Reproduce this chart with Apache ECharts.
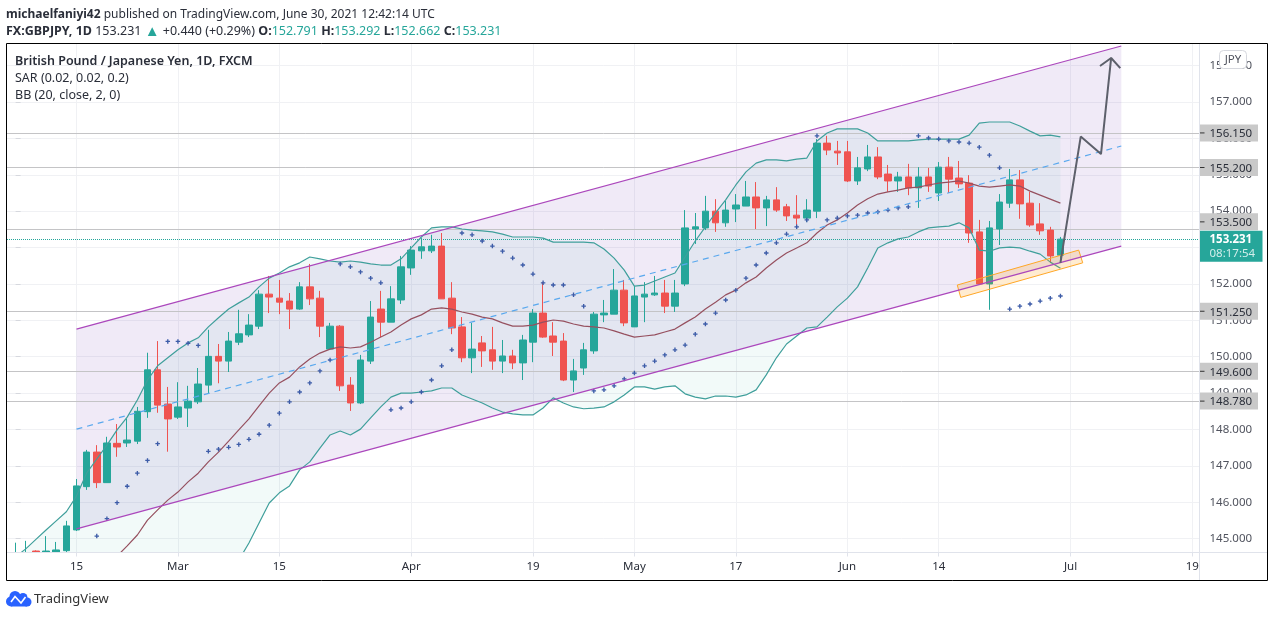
<!DOCTYPE html>
<html>
<head>
<meta charset="utf-8">
<title>GBPJPY</title>
<style>
  html, body { margin: 0; padding: 0; background: #fff; }
  #chart { width: 1274px; height: 617px; }
</style>
<script src="https://cdn.jsdelivr.net/npm/echarts@6/dist/echarts.min.js"></script>
</head>
<body>
<div id="chart"></div>
<script>
// daily bars, index 0 = 5 Feb 2021, weekends skipped
const opens = [
  144.30,144.30,144.66,144.55,144.55,144.67,145.24,146.43,147.38,146.54,
  147.62,147.63,147.68,148.49,149.64,148.70,148.34,148.59,148.76,149.22,
  150.01,149.88,150.40,150.60,150.84,151.72,151.61,151.53,151.31,151.92,
  151.61,150.21,150.84,149.22,148.73,149.88,151.31,150.95,151.56,152.44,
  152.91,152.91,153.04,151.61,150.82,149.97,150.38,150.19,149.88,150.02,
  149.83,150.40,151.20,150.57,150.43,149.36,149.69,150.16,151.15,151.17,
  151.83,150.82,151.64,151.70,151.75,151.39,152.00,153.51,153.54,154.00,
  153.68,154.06,154.14,154.39,154.09,154.31,154.12,153.89,153.81,154.00,
  155.87,155.65,155.63,154.83,155.16,155.49,155.02,154.83,154.94,154.64,
  154.94,154.50,155.21,154.91,154.77,153.43,152.00,153.51,154.22,154.86,
  154.22,153.65,153.48,152.791
];
const closes = [
  144.50,144.55,144.50,144.66,144.69,145.35,146.45,147.38,146.54,147.63,
  147.52,147.71,148.50,149.64,148.67,148.29,148.62,148.78,149.25,150.01,
  149.88,150.43,150.63,150.87,151.72,151.64,151.50,151.31,151.92,151.59,
  150.84,150.84,149.20,148.73,149.91,151.09,150.95,151.59,152.47,152.93,
  153.02,153.04,151.59,150.79,149.97,150.21,150.16,149.88,150.02,149.83,
  150.46,151.20,150.54,150.40,149.36,149.61,150.19,151.17,151.20,151.83,
  150.93,151.67,151.72,151.75,151.39,151.75,153.54,153.57,154.00,153.68,
  154.03,154.17,154.39,154.09,154.31,154.03,153.87,153.81,154.03,155.87,
  155.68,155.60,154.83,155.19,155.49,154.94,154.83,154.94,154.64,154.94,
  154.69,155.21,154.88,154.75,153.40,152.00,153.54,154.25,154.86,154.20,
  153.62,153.46,152.77,153.231
];
const lows = [
  144.20,144.20,144.40,144.50,144.50,144.60,145.21,146.34,146.39,146.54,
  147.25,147.52,147.60,148.32,148.46,147.39,148.29,148.07,148.70,149.00,
  149.27,149.58,150.32,150.54,150.76,151.20,151.17,150.76,151.29,151.42,
  150.54,150.19,149.06,148.51,148.70,149.80,150.54,150.95,151.45,152.25,
  152.69,152.85,151.59,150.62,149.85,149.55,149.72,149.64,149.55,149.66,
  149.36,149.85,150.52,150.02,149.33,149.03,149.50,150.08,150.95,151.17,
  150.84,150.82,150.95,151.67,151.20,151.23,151.94,153.10,153.48,153.43,
  153.57,153.70,154.14,153.51,153.59,153.98,153.73,153.54,153.70,153.81,
  155.54,155.27,154.80,154.72,155.10,154.88,154.53,154.53,154.44,154.09,
  154.53,154.28,154.50,154.64,153.13,151.97,151.29,153.07,154.09,153.79,
  153.57,153.35,152.58,152.662
];
const highs = [
  144.89,144.94,144.68,145.07,144.91,145.49,146.64,147.44,147.57,147.80,
  148.15,148.30,148.62,150.11,150.43,149.17,149.30,149.20,149.69,150.74,
  150.35,150.68,151.29,151.17,151.83,152.22,152.11,151.75,152.05,152.55,
  151.81,150.93,150.87,149.44,150.05,151.53,151.81,151.94,152.77,153.04,
  153.26,153.35,153.40,152.05,151.09,150.93,150.57,150.82,150.46,150.19,
  150.60,151.31,152.05,150.95,150.65,149.94,150.38,151.23,151.56,152.41,
  152.11,151.94,152.05,152.22,152.11,152.11,154.03,153.95,154.42,154.33,
  154.28,154.47,154.83,154.80,154.42,154.66,154.20,154.44,154.33,155.98,
  156.07,155.93,155.93,155.49,155.82,155.76,155.27,155.08,155.30,155.21,
  155.19,155.35,155.49,155.38,154.99,153.76,153.73,154.47,155.16,155.13,
  154.53,154.22,153.57,153.292
];

// Bollinger bands (20, close, 2, 0)
const bbUpper = [
  144.50,144.72,144.98,145.24,145.49,145.74,146.17,146.80,147.19,147.57,
  147.99,148.34,148.81,149.36,149.75,149.97,150.19,150.38,150.52,150.82,
  151.07,151.31,151.48,151.64,151.92,152.16,152.30,152.47,152.58,152.74,
  152.69,152.63,152.60,152.63,152.60,152.55,152.52,152.52,152.69,152.99,
  153.29,153.54,153.57,153.57,153.51,153.48,153.46,153.43,153.37,153.29,
  153.29,153.29,153.26,153.15,153.15,153.15,153.15,153.13,152.96,152.71,
  152.38,151.94,151.97,152.08,152.19,152.30,152.74,153.18,153.57,153.95,
  154.31,154.72,155.08,155.32,155.41,155.41,155.38,155.43,155.46,155.93,
  156.15,156.26,156.26,156.26,156.15,155.93,155.93,155.93,155.93,155.96,
  155.98,155.98,155.98,155.98,156.09,156.42,156.45,156.45,156.45,156.34,
  156.20,156.07,156.09,156.04
];
const bbBasis = [
  null,null,null,null,null,null,null,null,null,null,
  144.52,144.80,145.10,145.51,145.79,146.06,146.28,146.56,146.80,147.11,
  147.38,147.68,147.99,148.29,148.65,149.00,149.28,149.44,149.72,149.94,
  150.10,150.21,150.27,150.24,150.27,150.40,150.54,150.68,150.87,151.04,
  151.15,151.31,151.34,151.31,151.23,151.17,151.09,151.04,150.93,150.84,
  150.84,150.87,150.95,151.01,150.98,150.90,150.84,150.82,150.79,150.71,
  150.62,150.54,150.57,150.60,150.68,150.76,150.93,151.09,151.31,151.50,
  151.70,151.83,152.03,152.19,152.44,152.66,152.85,152.99,153.13,153.40,
  153.62,153.76,153.95,154.17,154.34,154.47,154.53,154.58,154.64,154.66,
  154.72,154.77,154.80,154.83,154.77,154.69,154.66,154.69,154.72,154.69,
  154.55,154.44,154.33,154.22
];
const bbLower = [
  null,null,null,null,null,null,null,null,null,null,
  null,null,null,null,null,null,null,null,null,null,
  null,null,144.41,144.88,145.43,145.98,146.26,146.45,146.89,147.11,
  147.49,147.85,147.96,147.85,148.01,148.32,148.62,148.89,149.00,149.00,
  149.03,149.06,149.14,149.14,148.95,148.84,148.73,148.59,148.48,148.43,
  148.40,148.40,148.59,148.87,148.73,148.62,148.57,148.59,148.62,148.76,
  148.95,149.17,149.17,149.11,149.17,149.20,148.98,148.89,148.84,148.92,
  148.92,148.89,148.95,149.09,149.50,149.97,150.35,150.57,150.79,150.82,
  151.09,151.37,151.61,151.92,152.44,152.99,153.13,153.24,153.29,153.43,
  153.54,153.57,153.59,153.68,153.54,152.93,152.90,152.99,153.01,152.99,
  152.90,152.82,152.60,152.43
];

// parabolic SAR (0.02, 0.02, 0.2)
const sarValues = [
  null,null,null,null,null,null,null,null,145.07,145.55,
  145.99,146.44,146.80,147.15,147.61,150.42,150.42,150.37,150.31,147.40,
  147.46,147.51,147.59,147.73,147.87,148.12,148.45,148.76,149.03,149.28,
  149.61,149.91,152.55,152.47,152.33,152.16,152.03,148.54,148.59,148.76,
  149.03,149.36,149.75,150.19,153.40,153.35,153.18,153.04,152.90,152.71,
  152.52,152.27,152.03,151.97,151.97,151.70,151.39,149.06,149.09,149.20,
  149.39,149.55,149.75,149.88,150.05,150.19,150.32,150.62,150.90,151.20,
  151.56,151.83,152.16,152.52,152.85,153.13,153.37,153.57,153.76,156.07,
  153.76,153.81,153.87,153.89,153.95,153.98,154.03,154.09,154.12,156.07,
  156.01,155.98,155.93,155.90,155.87,155.76,155.54,155.19,151.31,151.39,
  151.45,151.53,151.61,151.67
];

// regression channel drawing
const channelX = [6, 109];
const channelUpper = [150.76, 158.54];
const channelMiddle = [148.01, 155.79];
const channelLower = [145.27, 153.04];

// orange box on the channel floor
const boxX = [92.83, 93.17, 105.2, 104.8];
const boxY = [151.97, 151.63, 152.58, 152.93];

// hand drawn projection arrow
const arrowX = [103, 105, 107, 108];
const arrowY = [152.58, 156.05, 155.57, 158.21];
const arrowHeadX = [106.9, 108, 108.9];
const arrowHeadY = [157.99, 158.21, 157.93];

const levels = [156.15, 155.2, 153.5, 151.25, 149.6, 148.78];
const lastPrice = 153.231;
const countdown = '08:17:54';

const yTicks = [145, 146, 147, 148, 149, 150, 151, 152, 153, 154, 155, 156, 157, 158];
const xTicks = [6, 16, 26, 39, 51, 61, 71, 82, 91, 104, 116];
const xTickLabels = ['15', 'Mar', '15', 'Apr', '19', 'May', '17', 'Jun', '14', 'Jul', '19'];

const X_MIN = -0.85, X_MAX = 116.71;
const Y_MIN = 144.62, Y_MAX = 158.594;
const FONT = '"Noto Sans", "Open Sans", sans-serif';
const INK = '#2a2e39';
const UP = '#26a69a', DOWN = '#ef5350';
const BAND = '#3f9f9b', BASIS = '#96505f', CHANNEL = '#ab47bc';

const pairs = (xs, ys) => xs.map((x, i) => [x, ys[i]]);
const byIndex = vals => vals.map((v, i) => [i, v]);

const candles = opens.map((o, i) => [i, o, closes[i], lows[i], highs[i]]);

function polygonSeries(z, points, fill, stroke) {
  return {
    type: 'custom',
    silent: true,
    clip: true,
    z: z,
    data: [[points[0][0], points[0][1]]],
    encode: { x: 0, y: 1 },
    renderItem: (params, api) => ({
      type: 'polygon',
      shape: { points: points.map(p => api.coord(p)) },
      style: { fill: fill, stroke: stroke || 'none', lineWidth: 1 }
    })
  };
}

function lineSeries(name, data, color, width, z, dash) {
  return {
    name: name,
    type: 'line',
    data: data,
    z: z,
    silent: true,
    symbol: 'none',
    smooth: false,
    clip: true,
    lineStyle: { color: color, width: width, type: dash || 'solid' }
  };
}

// band outline: upper going right, then lower coming back (axis floor where the lower band is off the chart)
const bandPoints = bbUpper.map((v, i) => [i, v]).concat(
  bbLower.map((v, i) => [i, v == null ? Y_MIN - 1 : v]).reverse()
);
const channelPoints = [
  [channelX[0], channelUpper[0]], [channelX[1], channelUpper[1]],
  [channelX[1], channelLower[1]], [channelX[0], channelLower[0]]
];

const tagShift = { 153.5: -7.5 };

function renderLevelTag(params, api) {
  const price = api.value(1);
  const pt = api.coord([X_MAX, price]);
  const y = pt[1] + (tagShift[price] || 0);
  return {
    type: 'group',
    children: [
      { type: 'rect', shape: { x: pt[0], y: y - 8.5, width: 58.5, height: 17 }, style: { fill: '#c9c9c9' } },
      { type: 'line', shape: { x1: pt[0], y1: y, x2: pt[0] + 5, y2: y }, style: { stroke: '#333', lineWidth: 1 } },
      { type: 'text', style: { text: price.toFixed(3), x: pt[0] + 10, y: y + 1, fill: INK, font: '11.5px ' + FONT, textAlign: 'left', textVerticalAlign: 'middle' } }
    ]
  };
}

function renderLastTag(params, api) {
  const pt = api.coord([X_MAX, api.value(1)]);
  return {
    type: 'group',
    children: [
      { type: 'rect', shape: { x: pt[0], y: pt[1] - 8.5, width: 63, height: 31 }, style: { fill: UP } },
      { type: 'text', style: { text: lastPrice.toFixed(3), x: pt[0] + 10, y: pt[1] + 1, fill: '#fff', font: 'bold 11.5px ' + FONT, textAlign: 'left', textVerticalAlign: 'middle' } },
      { type: 'text', style: { text: countdown, x: pt[0] + 10, y: pt[1] + 14.5, fill: '#d2eeeb', font: '11.5px ' + FONT, textAlign: 'left', textVerticalAlign: 'middle' } }
    ]
  };
}

const chart = echarts.init(document.getElementById('chart'));

chart.setOption({
  animation: false,
  backgroundColor: '#fff',
  textStyle: { fontFamily: FONT },
  title: [
    {
      left: 6, top: 8.5, padding: 0,
      text: '{b|michaelfaniyi42} published on TradingView.com, June 30, 2021 12:42:14 UTC',
      textStyle: {
        fontFamily: FONT, fontSize: 12, fontWeight: 'normal', color: INK,
        rich: { b: { fontFamily: FONT, fontSize: 12, fontWeight: 'bold', color: INK } }
      }
    },
    {
      left: 6, top: 24, padding: 0,
      text: '{b|FX:GBPJPY, 1D} 153.231 {t|▲} +0.440 (+0.29%) {b|O:}{g|152.791} {b|H:}{g|153.292} {b|L:}{g|152.662} {b|C:}{g|153.231}',
      textStyle: {
        fontFamily: FONT, fontSize: 12.5, fontWeight: 'normal', color: INK,
        rich: {
          b: { fontFamily: FONT, fontSize: 12.5, fontWeight: 'bold', color: INK },
          g: { fontFamily: FONT, fontSize: 12.5, color: UP },
          t: { fontFamily: FONT, fontSize: 15, color: UP }
        }
      }
    },
    {
      left: 15, top: 54.5, padding: 0,
      text: 'British Pound / Japanese Yen, 1D, FXCM',
      textStyle: { fontFamily: FONT, fontSize: 12.5, fontWeight: 600, color: INK }
    },
    {
      left: 15, top: 71.5, padding: 0,
      text: 'SAR (0.02, 0.02, 0.2)',
      textStyle: { fontFamily: FONT, fontSize: 12.5, fontWeight: 'normal', color: INK }
    },
    {
      left: 15, top: 88.5, padding: 0,
      text: 'BB (20, close, 2, 0)',
      textStyle: { fontFamily: FONT, fontSize: 12.5, fontWeight: 'normal', color: INK }
    }
  ],
  grid: { left: 7, right: 74.5, top: 44, bottom: 64.5, containLabel: false },
  xAxis: {
    type: 'value',
    min: X_MIN,
    max: X_MAX,
    axisLine: { show: false },
    axisTick: { show: true, length: 4, lineStyle: { color: '#e0e3eb' }, customValues: xTicks },
    splitLine: { show: true, lineStyle: { color: '#f0f1f4', width: 1 } },
    axisLabel: {
      customValues: xTicks,
      margin: 8,
      fontFamily: FONT,
      fontSize: 11.5,
      color: v => (isNaN(+xTickLabels[xTicks.indexOf(v)]) ? INK : '#50535e'),
      formatter: v => xTickLabels[xTicks.indexOf(v)] || ''
    }
  },
  yAxis: {
    type: 'value',
    position: 'right',
    min: Y_MIN,
    max: Y_MAX,
    axisLine: { show: false },
    axisTick: { show: true, length: 5, lineStyle: { color: '#d6d8de' }, customValues: yTicks },
    splitLine: { show: true, lineStyle: { color: '#f0f1f4', width: 1 } },
    axisLabel: {
      customValues: yTicks,
      margin: 10,
      padding: [4, 0, 0, 0],
      fontFamily: FONT,
      fontSize: 11.5,
      color: '#50535e',
      formatter: v => v.toFixed(3)
    }
  },
  series: [
    polygonSeries(1, channelPoints, 'rgba(105,45,175,0.1)'),
    polygonSeries(1, bandPoints, 'rgba(38,166,154,0.06)'),
    {
      name: 'GBPJPY',
      type: 'candlestick',
      data: candles,
      barWidth: 7,
      z: 3,
      silent: true,
      clip: true,
      itemStyle: { color: UP, color0: DOWN, borderColor: UP, borderColor0: DOWN, borderWidth: 1 },
      markLine: {
        silent: true,
        z: 2,
        symbol: 'none',
        label: { show: false },
        data: levels.map(v => ({ yAxis: v, lineStyle: { color: '#c4c4c6', width: 1, type: 'solid' } })).concat([
          { yAxis: lastPrice, lineStyle: { color: UP, width: 1, type: 'dotted' } }
        ])
      }
    },
    lineSeries('BB upper', byIndex(bbUpper), BAND, 1.2, 4),
    lineSeries('BB basis', byIndex(bbBasis), BASIS, 1.2, 4),
    lineSeries('BB lower', byIndex(bbLower), BAND, 1.2, 4),
    {
      name: 'SAR',
      type: 'scatter',
      data: byIndex(sarValues),
      z: 4,
      silent: true,
      clip: true,
      symbol: 'path://M3.5 0h3v3.5h3.5v3h-3.5v3.5h-3v-3.5h-3.5v-3h3.5z',
      symbolSize: 4.5,
      itemStyle: { color: '#3d5ca8', opacity: 1 }
    },
    lineSeries('Channel upper', pairs(channelX, channelUpper), CHANNEL, 1.2, 5),
    lineSeries('Channel middle', pairs(channelX, channelMiddle), '#59a8ee', 1.2, 5, [6, 5]),
    lineSeries('Channel lower', pairs(channelX, channelLower), CHANNEL, 1.2, 5),
    polygonSeries(5, pairs(boxX, boxY), 'rgba(255,152,0,0.18)', '#ffa726'),
    lineSeries('Projection', pairs(arrowX, arrowY), '#5d606b', 2, 6),
    lineSeries('Projection head', pairs(arrowHeadX, arrowHeadY), '#5d606b', 2, 6),
    {
      type: 'custom',
      silent: true,
      z: 7,
      data: levels.map(v => [X_MAX, v]),
      encode: { x: 0, y: 1 },
      renderItem: renderLevelTag
    },
    {
      type: 'custom',
      silent: true,
      z: 8,
      data: [[X_MAX, lastPrice]],
      encode: { x: 0, y: 1 },
      renderItem: renderLastTag
    }
  ],
  graphic: [
    // candlestick clip only drops whole boxes, so hide what hangs below the axis on the left
    { type: 'rect', silent: true, z: 10, shape: { x: 7, y: 553, width: 64, height: 16 }, style: { fill: '#fff' } },
    // chart frame and the scale separators
    { type: 'line', silent: true, z: 11, shape: { x1: 1199.5, y1: 44, x2: 1199.5, y2: 580 }, style: { stroke: '#e0e3eb', lineWidth: 1 } },
    { type: 'line', silent: true, z: 11, shape: { x1: 7, y1: 552.5, x2: 1267, y2: 552.5 }, style: { stroke: '#e0e3eb', lineWidth: 1 } },
    { type: 'rect', silent: true, z: 20, shape: { x: 6.5, y: 43.5, width: 1261, height: 537 }, style: { fill: 'none', stroke: '#000', lineWidth: 1 } },
    // currency button
    { type: 'rect', silent: true, z: 20, shape: { x: 1219.5, y: 50.5, width: 27, height: 18, r: 4 }, style: { fill: '#fff', stroke: '#d6d8de', lineWidth: 1 } },
    { type: 'text', silent: true, z: 21, style: { text: 'JPY', x: 1233, y: 59.5, fill: '#50535e', font: '11.5px ' + FONT, textAlign: 'center', textVerticalAlign: 'middle' } },
    // TradingView logo
    { type: 'circle', silent: true, shape: { cx: 11, cy: 601.5, r: 5 }, style: { fill: '#2962ff' } },
    { type: 'circle', silent: true, shape: { cx: 15, cy: 596.5, r: 5.5 }, style: { fill: '#2962ff' } },
    { type: 'circle', silent: true, shape: { cx: 23, cy: 597.5, r: 4.5 }, style: { fill: '#2962ff' } },
    { type: 'circle', silent: true, shape: { cx: 27, cy: 602, r: 4.5 }, style: { fill: '#2962ff' } },
    { type: 'rect', silent: true, shape: { x: 11, y: 600, width: 16, height: 6.5 }, style: { fill: '#2962ff' } },
    { type: 'polyline', silent: true, shape: { points: [[11, 602], [15, 596.5], [21, 603], [25.5, 597]] }, style: { fill: 'none', stroke: '#fff', lineWidth: 1.6 } },
    { type: 'text', silent: true, style: { text: 'TradingView', x: 34, y: 599, fill: '#333', font: '13px ' + FONT, textAlign: 'left', textVerticalAlign: 'middle' } }
  ]
});
</script>
</body>
</html>
